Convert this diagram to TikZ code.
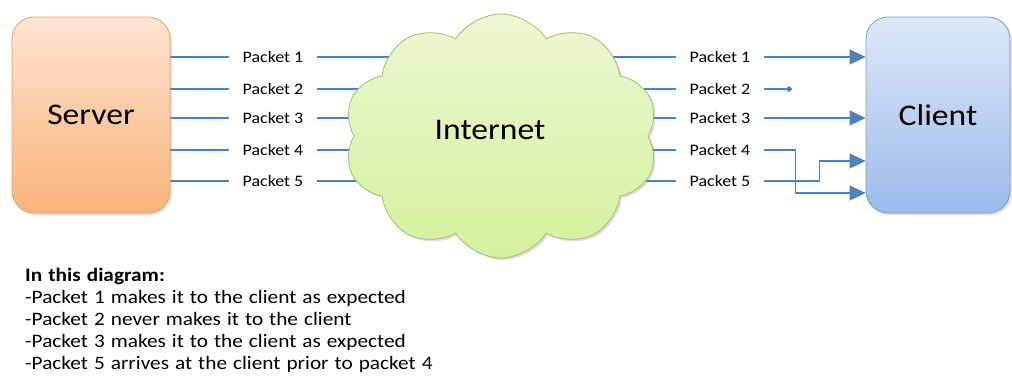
\documentclass[tikz,border=0pt]{standalone}
\usepackage{fontspec}
\setmainfont{Carlito}[FakeStretch=1.12]
\usetikzlibrary{arrows.meta,shapes.symbols,shadows,backgrounds}

\definecolor{pktline}{rgb}{0.310, 0.506, 0.741}
\definecolor{srvtop}{rgb}{0.992, 0.894, 0.816}
\definecolor{srvbot}{rgb}{0.976, 0.706, 0.478}
\definecolor{srvedge}{rgb}{0.910, 0.639, 0.392}
\definecolor{clitop}{rgb}{0.867, 0.910, 0.969}
\definecolor{clibot}{rgb}{0.608, 0.733, 0.922}
\definecolor{cliedge}{rgb}{0.490, 0.612, 0.808}
\definecolor{nettop}{rgb}{0.925, 0.969, 0.820}
\definecolor{netbot}{rgb}{0.835, 0.945, 0.620}
\definecolor{netedge}{rgb}{0.620, 0.749, 0.447}

\newcommand{\notesfont}{\fontsize{19}{22}\selectfont\spaceskip=6pt plus 1pt minus 1pt\relax}

\tikzset{
  hostbox/.style={rectangle, rounded corners=22pt, minimum width=158pt,
    minimum height=196pt, line width=0.8pt,
    drop shadow={opacity=0.25, shadow xshift=2pt, shadow yshift=-2pt},
    font=\fontsize{30}{36}\selectfont},
  pktlabel/.style={inner xsep=14pt, font=\fontsize{16}{19}\selectfont},
  pktwire/.style={draw=pktline, line width=1.1pt},
  pktarrow/.style={pktwire, -{Triangle[length=16pt,width=15pt]}},
  pktlost/.style={pktwire, -{Diamond[length=7pt,width=6pt]}}
}

\begin{document}
\begin{tikzpicture}[x=1pt, y=-1pt]
\useasboundingbox (0,0) rectangle (1012,388);

% hosts
\node[hostbox, draw=srvedge, top color=srvtop, bottom color=srvbot] (server) at (91,115) {Server};
\node[hostbox, minimum width=144pt, draw=cliedge, top color=clitop, bottom color=clibot] (client) at (938,115) {Client};

% the internet
\node[cloud, cloud puffs=10, cloud puff arc=115, aspect=1.3, minimum width=314pt,
  minimum height=244pt, draw=netedge, line width=0.8pt, top color=nettop, bottom color=netbot,
  drop shadow={opacity=0.25, shadow xshift=2pt, shadow yshift=-2pt}] (net) at (501,136) {};
\node[font=\fontsize{30}{36}\selectfont] (nettext) at (490,130) {Internet};

% packet labels
\foreach \i/\y in {1/57, 2/89, 3/118, 4/150, 5/181} {
  \node[pktlabel] (out\i) at (273,\y) {Packet \i};
  \node[pktlabel] (in\i) at (720,\y) {Packet \i};
}

\begin{scope}[on background layer]
\foreach \i in {1,...,5} {
  \draw[pktwire] (server.east |- out\i) -- (out\i.west);
  \draw[pktwire] (out\i.east) -- (out\i -| net.center);
  \draw[pktwire] (in\i -| net.center) -- (in\i.west);
}
\end{scope}

% what reaches the client
\draw[pktarrow] (in1.east) -- (in1 -| client.west);
\draw[pktlost] (in2.east) -- ++(28,0);
\draw[pktarrow] (in3.east) -- (in3 -| client.west);
\coordinate (late) at (client.west |- 0,193);
\coordinate (early) at (client.west |- 0,161);
\draw[pktarrow] (in4.east) -- ++(31,0) |- (late);
\draw[pktarrow] (in5.east) -- ++(55,0) |- (early);

% notes
\node[anchor=north west, align=left, inner sep=0pt, font=\notesfont] (notes) at (25,268)
  {\textbf{In this diagram:}\\
   -Packet 1 makes it to the client as expected\\
   -Packet 2 never makes it to the client\\
   -Packet 3 makes it to the client as expected\\
   -Packet 5 arrives at the client prior to packet 4};
\end{tikzpicture}
\end{document}
